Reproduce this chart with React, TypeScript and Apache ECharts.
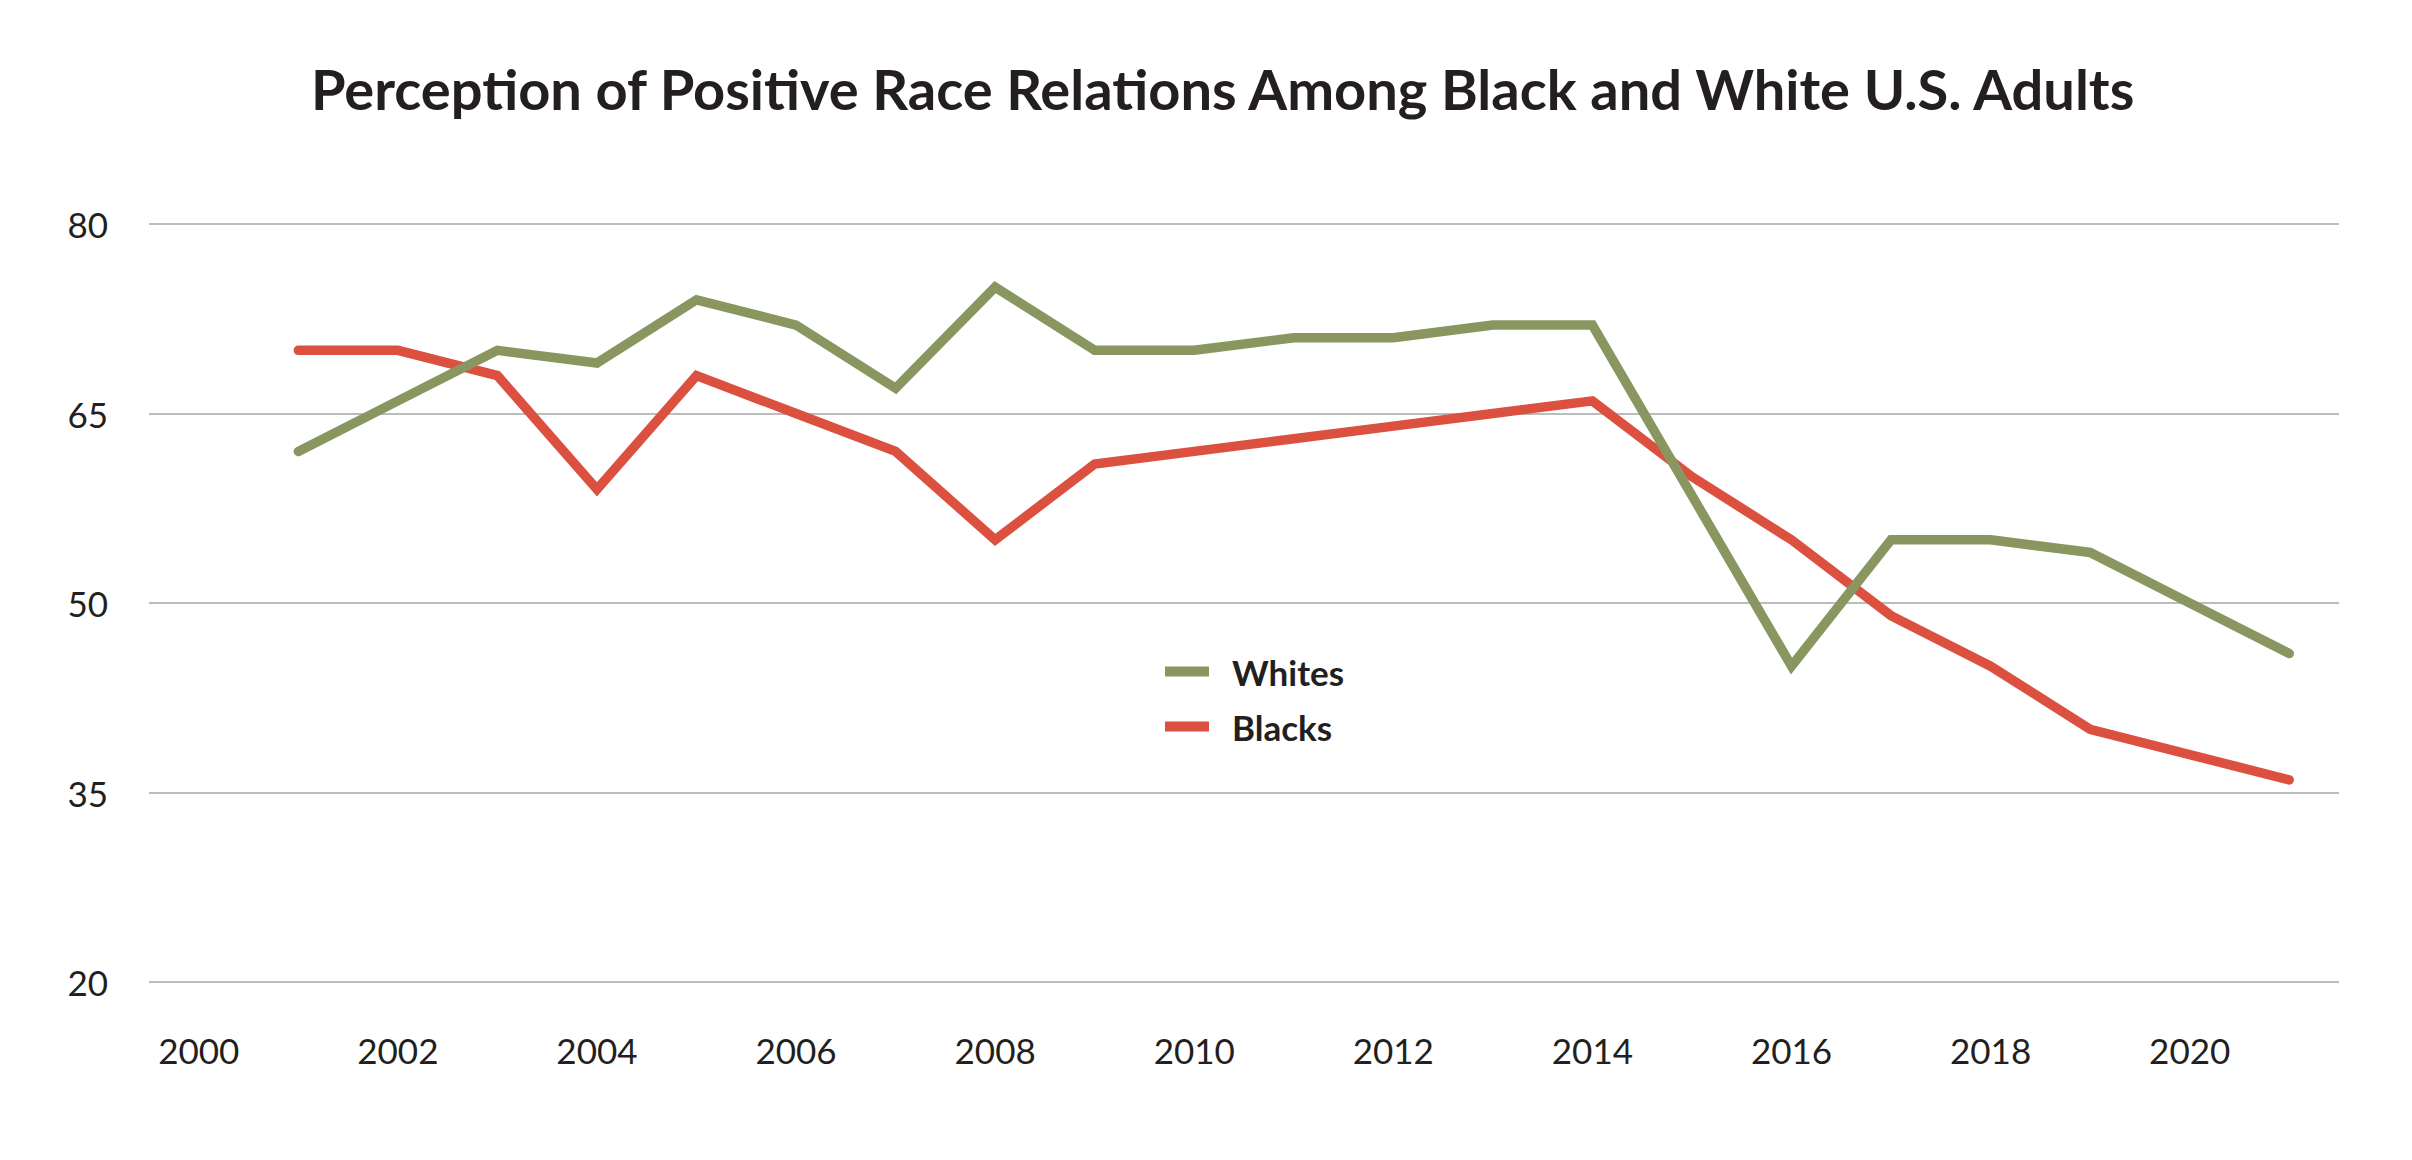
import React, { useEffect, useRef } from "react";
import * as echarts from "echarts";

const years = ["2000","2001","2002","2003","2004","2005","2006","2007","2008","2009","2010","2011","2012","2013","2014","2015","2016","2017","2018","2019","2020","2021"];
const whites = [null, 62, 66, 70, 69, 74, 72, 67, 75, 70, 70, 71, 71, 72, 72, 58.5, 45, 55, 55, 54, 50, 46];
const blacks = [null, 70, 70, 68, 59, 68, 65, 62, 55, 61, 62, 63, 64, 65, 66, 60, 55, 49, 45, 40, 38, 36];
const yTicks = { min: 20, max: 80, interval: 15 };
const titleText = "Perception of Positive Race Relations Among Black and White U.S. Adults";

const GREEN = "#8A9660";
const RED = "#DC5040";
const INK = "#231F20";

export default function App() {
  const ref = useRef<HTMLDivElement>(null);
  useEffect(() => {
    document.body.style.margin = "0";
    const chart = echarts.init(ref.current!, null, { renderer: "svg" });
    chart.setOption({
      animation: false,
      backgroundColor: "#ffffff",
      title: {
        text: titleText,
        left: 306,
        top: 55,
        textStyle: { fontFamily: "Lato", fontWeight: 700, fontSize: 56, color: INK },
      },
      legend: {
        orient: "vertical",
        left: 1160,
        top: 649,
        itemWidth: 44,
        itemHeight: 10,
        itemGap: 20,
        icon: "rect",
        data: ["Whites", "Blacks"],
        textStyle: { fontFamily: "Lato", fontWeight: 700, fontSize: 35, color: INK, lineHeight: 34, padding: [0, 0, 0, 18] },
      },
      grid: { left: 149, right: 73, top: 224, bottom: 178, containLabel: false },
      xAxis: {
        type: "category",
        data: years,
        boundaryGap: true,
        axisLine: { show: false },
        axisTick: { show: false },
        axisLabel: {
          interval: 1,
          margin: 50,
          fontFamily: "Lato",
          fontSize: 35,
          color: INK,
        },
      },
      yAxis: {
        type: "value",
        min: yTicks.min,
        max: yTicks.max,
        interval: yTicks.interval,
        axisLine: { show: false },
        axisTick: { show: false },
        axisLabel: { margin: 41, fontFamily: "Lato", fontSize: 35, color: INK },
        splitLine: { lineStyle: { color: "#A6A6A6", width: 1.5 } },
      },
      series: [
        {
          name: "Whites",
          type: "line",
          data: whites,
          showSymbol: false,
          symbol: "none",
          itemStyle: { color: GREEN },
          lineStyle: { color: GREEN, width: 9.5, cap: "round", join: "miter" },
          z: 3,
        },
        {
          name: "Blacks",
          type: "line",
          data: blacks,
          showSymbol: false,
          symbol: "none",
          itemStyle: { color: RED },
          lineStyle: { color: RED, width: 9.5, cap: "round", join: "miter" },
          z: 2,
        },
      ],
    });
    return () => chart.dispose();
  }, []);
  return <div ref={ref} style={{ width: 2412, height: 1160 }} />;
}
